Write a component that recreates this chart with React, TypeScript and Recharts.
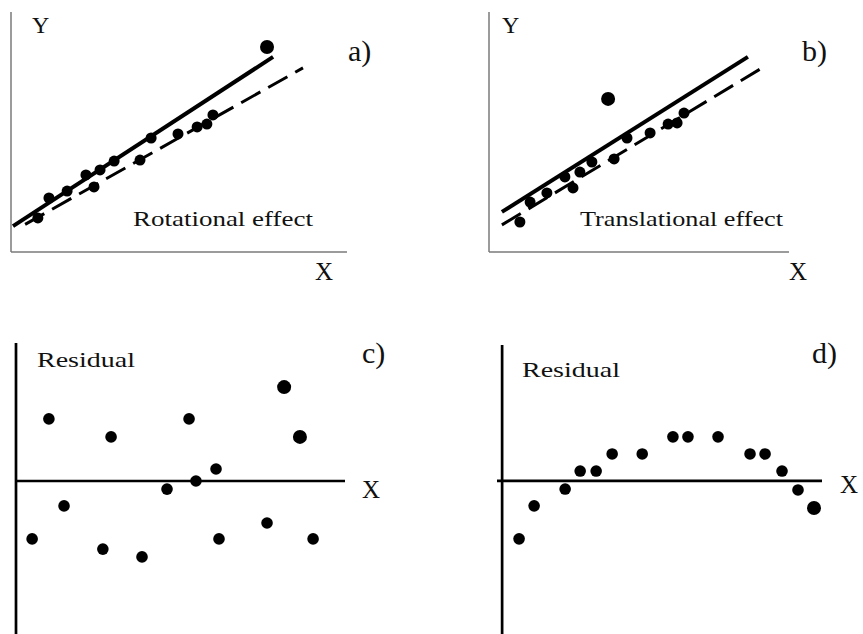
import { ScatterChart, Scatter, XAxis, YAxis, ReferenceLine } from "recharts";

// a) rotational effect: one influential point pulls the solid fit up
const rotPoints = [
  { x: 0.8, y: 1.42 }, { x: 1.13, y: 2.25 }, { x: 1.67, y: 2.54 }, { x: 2.23, y: 3.21 },
  { x: 2.47, y: 2.71 }, { x: 2.65, y: 3.42 }, { x: 3.07, y: 3.79 }, { x: 3.84, y: 3.83 },
  { x: 4.17, y: 4.75 }, { x: 4.97, y: 4.92 }, { x: 5.54, y: 5.21 }, { x: 5.83, y: 5.33 },
  { x: 6.01, y: 5.71 },
];
const rotOutlier = [{ x: 7.62, y: 8.54 }];
const rotFitWith = [{ x: 0.06, y: 1.08 }, { x: 7.8, y: 8.13 }];
const rotFitWithout = [{ x: 0.42, y: 1.15 }, { x: 8.69, y: 7.67 }];

// b) translational effect: outlier shifts the fit up
const transPoints = [
  { x: 1.03, y: 1.25 }, { x: 1.37, y: 2.08 }, { x: 1.93, y: 2.46 }, { x: 2.53, y: 3.13 },
  { x: 2.8, y: 2.67 }, { x: 3.03, y: 3.33 }, { x: 3.43, y: 3.75 }, { x: 4.17, y: 3.88 },
  { x: 4.6, y: 4.75 }, { x: 5.37, y: 4.96 }, { x: 5.97, y: 5.33 }, { x: 6.27, y: 5.38 },
  { x: 6.5, y: 5.79 },
];
const transOutlier = [{ x: 3.97, y: 6.38 }];
const transFitWith = [{ x: 0.43, y: 1.67 }, { x: 8.63, y: 8.13 }];
const transFitWithout = [{ x: 0.43, y: 1.13 }, { x: 9.1, y: 7.67 }];

// c) random residuals
const randResid = [
  { x: 0.49, y: -1.93 }, { x: 1.0, y: 2.07 }, { x: 1.46, y: -0.83 }, { x: 2.64, y: -2.27 },
  { x: 2.89, y: 1.47 }, { x: 3.83, y: -2.53 }, { x: 4.59, y: -0.27 }, { x: 5.26, y: 2.07 },
  { x: 5.47, y: 0 }, { x: 6.08, y: 0.4 }, { x: 6.17, y: -1.93 }, { x: 7.63, y: -1.4 },
  { x: 9.03, y: -1.93 },
];
const randResidBig = [{ x: 8.15, y: 3.13 }, { x: 8.63, y: 1.47 }];

// d) curved residuals
const curveResid = [
  { x: 0.53, y: -1.93 }, { x: 1.0, y: -0.83 }, { x: 1.97, y: -0.27 }, { x: 2.44, y: 0.33 },
  { x: 2.94, y: 0.33 }, { x: 3.44, y: 0.9 }, { x: 4.38, y: 0.9 }, { x: 5.34, y: 1.47 },
  { x: 5.81, y: 1.47 }, { x: 6.75, y: 1.47 }, { x: 7.75, y: 0.9 }, { x: 8.22, y: 0.9 },
  { x: 8.75, y: 0.33 }, { x: 9.25, y: -0.3 },
];
const curveResidBig = [{ x: 9.75, y: -0.9 }];

const FONT = "Liberation Serif";

const dot = (r: number) => (p: any) => <circle cx={p.cx} cy={p.cy} r={r} fill="#000" />;
const noDot = () => <g />;

function Panel({ left, top, width, height, margin, xDomain, yDomain, children }: any) {
  return (
    <div style={{ position: "absolute", left, top }}>
      <ScatterChart width={width} height={height} margin={margin}>
        <XAxis type="number" dataKey="x" domain={xDomain} hide />
        <YAxis type="number" dataKey="y" domain={yDomain} hide />
        {children}
      </ScatterChart>
    </div>
  );
}

function Txt({ x, y, size, len, children }: any) {
  return (
    <text
      x={x}
      y={y}
      style={{ fontFamily: FONT, fontSize: size }}
      fill="#111"
      textLength={len}
      lengthAdjust={len ? "spacingAndGlyphs" : undefined}
    >
      {children}
    </text>
  );
}

export default function App() {
  return (
    <div style={{ position: "absolute", left: 0, top: 0, width: 863, height: 634, background: "#fff" }}>
      <Panel left={0} top={0} width={370} height={290} margin={{ top: 12, left: 11, right: 23, bottom: 38 }} xDomain={[0, 10]} yDomain={[0, 10]}>
        <ReferenceLine x={0} stroke="#7a7a7a" strokeWidth={1.5} />
        <ReferenceLine y={0} stroke="#7a7a7a" strokeWidth={1.5} />
        <Scatter data={rotFitWith} shape={noDot} line={{ stroke: "#000", strokeWidth: 4 }} isAnimationActive={false} />
        <Scatter data={rotFitWithout} shape={noDot} line={{ stroke: "#000", strokeWidth: 3, strokeDasharray: "22 9" }} isAnimationActive={false} />
        <Scatter data={rotPoints} shape={dot(5.5)} isAnimationActive={false} />
        <Scatter data={rotOutlier} shape={dot(7)} isAnimationActive={false} />
      </Panel>
      <Panel left={440} top={0} width={423} height={290} margin={{ top: 12, left: 49, right: 74, bottom: 38 }} xDomain={[0, 10]} yDomain={[0, 10]}>
        <ReferenceLine x={0} stroke="#7a7a7a" strokeWidth={1.5} />
        <ReferenceLine y={0} stroke="#7a7a7a" strokeWidth={1.5} />
        <Scatter data={transFitWith} shape={noDot} line={{ stroke: "#000", strokeWidth: 4 }} isAnimationActive={false} />
        <Scatter data={transFitWithout} shape={noDot} line={{ stroke: "#000", strokeWidth: 3, strokeDasharray: "22 9" }} isAnimationActive={false} />
        <Scatter data={transPoints} shape={dot(5.5)} isAnimationActive={false} />
        <Scatter data={transOutlier} shape={dot(7)} isAnimationActive={false} />
      </Panel>
      <Panel left={0} top={330} width={400} height={304} margin={{ top: 13, left: 16, right: 55, bottom: 0 }} xDomain={[0, 10]} yDomain={[-5.1, 4.6]}>
        <ReferenceLine x={0} stroke="#000" strokeWidth={2.7} />
        <ReferenceLine y={0} stroke="#000" strokeWidth={2.7} />
        <Scatter data={randResid} shape={dot(5.8)} isAnimationActive={false} />
        <Scatter data={randResidBig} shape={dot(7)} isAnimationActive={false} />
      </Panel>
      <Panel left={470} top={330} width={393} height={304} margin={{ top: 15, left: 27, right: 41, bottom: 0 }} xDomain={[-0.16, 10]} yDomain={[-5.1, 4.53]}>
        <ReferenceLine x={0} stroke="#000" strokeWidth={2.7} />
        <ReferenceLine y={0} stroke="#000" strokeWidth={2.7} />
        <Scatter data={curveResid} shape={dot(5.8)} isAnimationActive={false} />
        <Scatter data={curveResidBig} shape={dot(7)} isAnimationActive={false} />
      </Panel>
      <svg width={863} height={634} style={{ position: "absolute", left: 0, top: 0, pointerEvents: "none" }}>
        <Txt x={32} y={33} size={24}>Y</Txt>
        <Txt x={315} y={280} size={25}>X</Txt>
        <Txt x={348} y={61} size={30}>a)</Txt>
        <Txt x={133} y={226} size={22} len={180}>Rotational effect</Txt>
        <Txt x={502} y={33} size={24}>Y</Txt>
        <Txt x={789} y={280} size={25}>X</Txt>
        <Txt x={802} y={61} size={30}>b)</Txt>
        <Txt x={580} y={226} size={22} len={203}>Translational effect</Txt>
        <Txt x={37} y={367} size={22} len={98}>Residual</Txt>
        <Txt x={362} y={498} size={25}>X</Txt>
        <Txt x={362} y={363} size={30}>c)</Txt>
        <Txt x={522} y={377} size={22} len={98}>Residual</Txt>
        <Txt x={840} y={493} size={25}>X</Txt>
        <Txt x={812} y={363} size={30}>d)</Txt>
      </svg>
    </div>
  );
}
